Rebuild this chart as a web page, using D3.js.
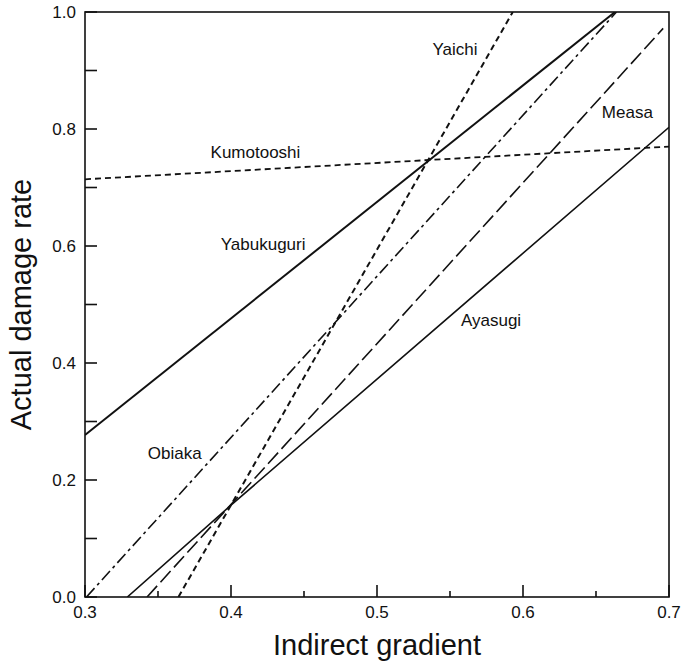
<!DOCTYPE html>
<meta charset="utf-8">
<style>
 body { margin: 0; background: #fff; }
 svg text { font-family: "Liberation Sans", Arial, Helvetica, sans-serif; fill: #111; }
 .tick-label { font-size: 17px; }
 .curve-label { font-size: 17px; }
 .axis-title { font-size: 29px; }
</style>
<body>
<svg width="681" height="664"></svg>
<script src="https://d3js.org/d3.v7.min.js"></script>
<script>

// values
var lineNames = ["Yabukuguri", "Ayasugi", "Measa", "Obiaka", "Yaichi", "Kumotooshi"];
var lineX = [
    [0.300, 0.663],
    [0.329, 0.400, 0.700],
    [0.3425, 0.696],
    [0.301, 0.664],
    [0.364, 0.593],
    [0.300, 0.700]
];
var lineY = [
    [0.277, 1.000],
    [0.000, 0.157, 0.803],
    [0.000, 0.972],
    [0.000, 1.000],
    [0.000, 1.000],
    [0.714, 0.770]
];
var xTicks = [0.3, 0.4, 0.5, 0.6, 0.7];
var xMinorTicks = [0.35, 0.45, 0.55, 0.65];
var yTicks = [0.0, 0.2, 0.4, 0.6, 0.8, 1.0];
var yMinorTicks = [0.1, 0.3, 0.5, 0.7, 0.9];

// where each name sits (data units, left end of the baseline)
var labelAt = {
    "Yaichi":     [0.538, 0.926],
    "Measa":      [0.654, 0.819],
    "Kumotooshi": [0.386, 0.750],
    "Yabukuguri": [0.393, 0.593],
    "Obiaka":     [0.343, 0.236],
    "Ayasugi":    [0.5575, 0.463]
};

// line look per curve
var styles = {
    "Yabukuguri": { w: 2.0, dash: null },
    "Ayasugi":    { w: 1.6, dash: null },
    "Measa":      { w: 1.6, dash: "15,5" },
    "Obiaka":     { w: 1.6, dash: "12,4,3,4" },
    "Yaichi":     { w: 2.0, dash: "6,4" },
    "Kumotooshi": { w: 1.8, dash: "6,4" }
};

var svg = d3.select("svg");
var pLeft = 85, pRight = 669, pTop = 12, pBottom = 597;

var x = d3.scaleLinear().domain([0.3, 0.7]).range([pLeft, pRight]);
var y = d3.scaleLinear().domain([0, 1]).range([pBottom, pTop]);

svg.append("clipPath").attr("id", "plot")
   .append("rect").attr("x", pLeft).attr("y", pTop)
   .attr("width", pRight - pLeft).attr("height", pBottom - pTop);

var line = d3.line().x(function(d) { return x(d[0]); }).y(function(d) { return y(d[1]); });

var g = svg.append("g").attr("clip-path", "url(#plot)");
lineNames.forEach(function(name, i) {
    var pts = lineX[i].map(function(v, j) { return [v, lineY[i][j]]; });
    var s = styles[name];
    g.append("path")
     .attr("d", line(pts))
     .attr("fill", "none")
     .attr("stroke", "#111")
     .attr("stroke-width", s.w)
     .attr("stroke-dasharray", s.dash);
});

// frame
svg.append("rect")
   .attr("x", pLeft).attr("y", pTop)
   .attr("width", pRight - pLeft).attr("height", pBottom - pTop)
   .attr("fill", "none").attr("stroke", "#111").attr("stroke-width", 1.6);

// ticks pointing inward
var xAxis = svg.append("g").attr("transform", "translate(0," + pBottom + ")");
xAxis.selectAll("line.major").data(xTicks).enter().append("line")
     .attr("x1", x).attr("x2", x).attr("y1", 0).attr("y2", -12)
     .attr("stroke", "#111").attr("stroke-width", 1.6);
xAxis.selectAll("line.minor").data(xMinorTicks).enter().append("line")
     .attr("x1", x).attr("x2", x).attr("y1", 0).attr("y2", -6)
     .attr("stroke", "#111").attr("stroke-width", 1.6);
xAxis.selectAll("text").data(xTicks).enter().append("text")
     .attr("class", "tick-label")
     .attr("x", x).attr("y", 21)
     .attr("text-anchor", "middle")
     .text(d3.format(".1f"));

var yAxis = svg.append("g").attr("transform", "translate(" + pLeft + ",0)");
yAxis.selectAll("line.major").data(yTicks.concat(yMinorTicks)).enter().append("line")
     .attr("y1", y).attr("y2", y).attr("x1", 0).attr("x2", 12)
     .attr("stroke", "#111").attr("stroke-width", 1.6);
yAxis.selectAll("text").data(yTicks).enter().append("text")
     .attr("class", "tick-label")
     .attr("x", -9).attr("y", y).attr("dy", "0.36em")
     .attr("text-anchor", "end")
     .text(d3.format(".1f"));

// curve names
lineNames.forEach(function(name) {
    svg.append("text")
       .attr("class", "curve-label")
       .attr("x", x(labelAt[name][0]))
       .attr("y", y(labelAt[name][1]))
       .text(name);
});

// axis titles
svg.append("text")
   .attr("class", "axis-title")
   .attr("x", x(0.5)).attr("y", 655)
   .attr("text-anchor", "middle")
   .text("Indirect gradient");

svg.append("text")
   .attr("class", "axis-title")
   .attr("transform", "translate(31," + ((pTop + pBottom) / 2) + ") rotate(-90)")
   .attr("text-anchor", "middle")
   .text("Actual damage rate");

</script>
</body>
